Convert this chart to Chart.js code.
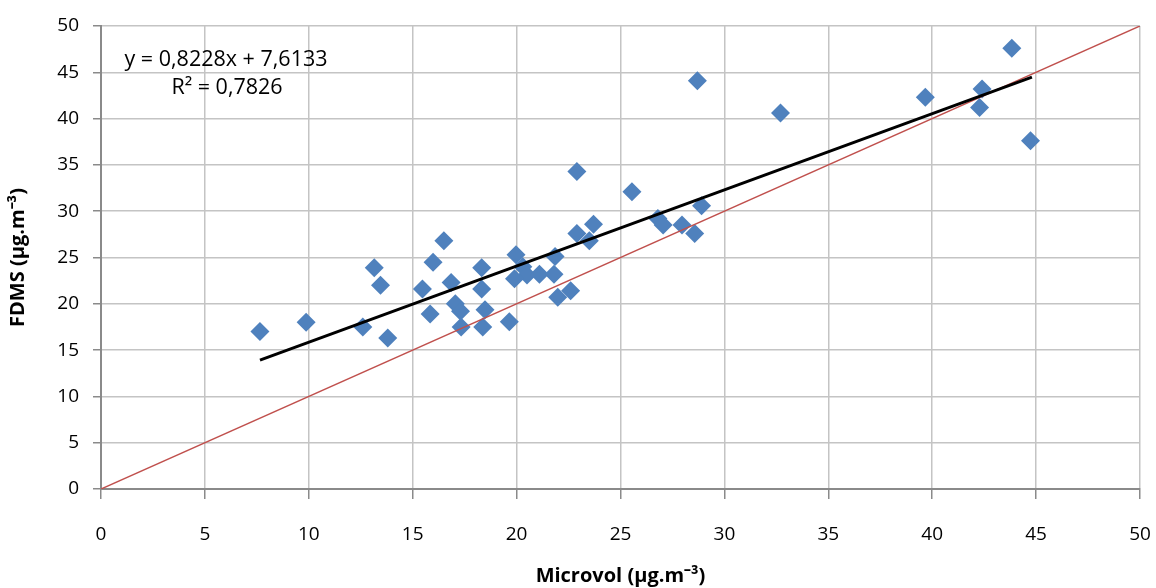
<!DOCTYPE html>
<html>
<head>
<meta charset="utf-8">
<script src="https://cdn.jsdelivr.net/npm/chart.js@4.4.1/dist/chart.umd.min.js"></script>
<style>
  html, body { margin: 0; padding: 0; background: #fff; }
  #wrap { position: relative; width: 1156px; height: 588px; }
</style>
</head>
<body>
<div id="wrap"><canvas id="chart"></canvas></div>
<script>
// Microvol (x) vs FDMS (y)
const microvol = [
  7.65, 9.87, 12.6, 13.15, 13.45, 13.8, 15.47, 15.84, 15.98, 16.5,
  16.85, 17.05, 17.3, 17.33, 18.32, 18.32, 18.48, 18.37, 19.65, 19.97,
  20.3, 20.5, 19.9, 21.1, 21.8, 21.85, 21.98, 22.6, 22.9, 22.9,
  23.5, 23.7, 25.55, 26.8, 27.05, 27.96, 28.57, 28.9, 28.7, 32.7,
  39.67, 42.4, 42.28, 43.83, 44.73
];
const fdms = [
  17.0, 18.0, 17.5, 23.9, 22.0, 16.3, 21.6, 18.9, 24.5, 26.8,
  22.3, 20.0, 19.2, 17.5, 23.9, 21.6, 19.35, 17.5, 18.05, 25.3,
  24.0, 23.1, 22.7, 23.2, 23.2, 25.1, 20.7, 21.4, 27.6, 34.3,
  26.8, 28.6, 32.1, 29.2, 28.5, 28.5, 27.6, 30.6, 44.1, 40.6,
  42.3, 43.2, 41.2, 47.6, 37.6
];
// linear trend line ends and the 1:1 line
const trendX = [7.65, 44.8];
const trendY = [13.91, 44.47];
const identityX = [0, 50];
const identityY = [0, 50];
const tickValues = [0, 5, 10, 15, 20, 25, 30, 35, 40, 45, 50];
const equationText = 'y = 0,8228x + 7,6133';
const r2Text = 'R\u00b2 = 0,7826';

const toPoints = (xs, ys) => xs.map((x, i) => ({ x, y: ys[i] }));

const FONT = "'Open Sans', 'Liberation Sans', sans-serif";

const equationPlugin = {
  id: 'equation',
  afterDraw(chart) {
    const { ctx, chartArea } = chart;
    ctx.save();
    ctx.fillStyle = '#000';
    ctx.font = `21.5px ${FONT}`;
    ctx.textAlign = 'center';
    ctx.textBaseline = 'middle';
    ctx.fillText(equationText, chartArea.left + 125, chartArea.top + 34);
    ctx.fillText(r2Text, chartArea.left + 126, chartArea.top + 62);
    ctx.restore();
  },
};

const axisCommon = {
  type: 'linear',
  min: 0,
  max: 50,
  afterBuildTicks: (scale) => {
    scale.ticks = tickValues.map((v) => ({ value: v }));
  },
  grid: {
    color: '#c4c4c4',
    lineWidth: 1.5,
    tickColor: '#8a8a8a',
    tickWidth: 1.5,
  },
  border: { color: '#8a8a8a', width: 2 },
  ticks: {
    color: '#000',
    font: { family: FONT, size: 19 },
  },
};

new Chart(document.getElementById('chart').getContext('2d'), {
  type: 'scatter',
  data: {
    datasets: [
      {
        label: 'trend',
        data: toPoints(trendX, trendY),
        showLine: true,
        borderColor: '#000',
        borderWidth: 3,
        pointRadius: 0,
        fill: false,
      },
      {
        label: '1:1',
        data: toPoints(identityX, identityY),
        showLine: true,
        borderColor: '#c0504d',
        borderWidth: 1.5,
        pointRadius: 0,
        fill: false,
      },
      {
        label: 'FDMS',
        data: toPoints(microvol, fdms),
        pointStyle: 'rectRot',
        pointRadius: 9.5,
        backgroundColor: '#4f81bd',
        borderColor: '#4f81bd',
        borderWidth: 0,
      },
    ],
  },
  options: {
    responsive: true,
    maintainAspectRatio: false,
    animation: false,
    layout: { padding: { left: 0, right: 16, top: 26, bottom: 0 } },
    scales: {
      x: {
        ...axisCommon,
        position: 'bottom',
        grid: { ...axisCommon.grid, tickLength: 10 },
        ticks: { ...axisCommon.ticks, padding: 24, maxRotation: 0 },
        title: {
          display: true,
          text: 'Microvol (\u00b5g.m\u207b\u00b3)',
          color: '#000',
          font: { family: FONT, size: 20, weight: 'bold' },
          padding: { top: 0, bottom: 0 },
        },
        afterFit: (scale) => {
          scale.height = 99;
          scale.paddingLeft = 0;
          scale.paddingRight = 0;
        },
      },
      y: {
        ...axisCommon,
        position: 'left',
        grid: { ...axisCommon.grid, tickLength: 8 },
        ticks: { ...axisCommon.ticks, padding: 14 },
        title: {
          display: true,
          text: 'FDMS (\u00b5g.m\u207b\u00b3)',
          color: '#000',
          font: { family: FONT, size: 20, weight: 'bold' },
          padding: { top: 6, bottom: 0 },
        },
        afterFit: (scale) => {
          scale.width = 101;
          scale.paddingTop = 0;
          scale.paddingBottom = 0;
        },
      },
    },
    plugins: {
      legend: { display: false },
      tooltip: { enabled: false },
    },
  },
  plugins: [equationPlugin],
});
</script>
</body>
</html>
